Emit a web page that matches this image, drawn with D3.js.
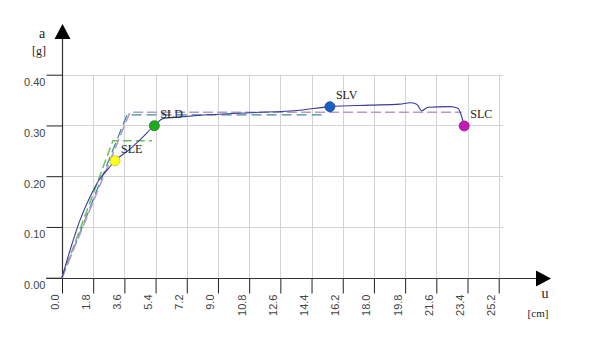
<!DOCTYPE html>
<html>
<head>
<meta charset="utf-8">
<title>curva di capacità</title>
<style>
  body { margin: 0; background: #fff; }
  .tick text { font-family: "Liberation Sans", Arial, sans-serif; font-size: 11px; fill: #444; }
  .lbl { font-family: "Liberation Serif", "Times New Roman", serif; fill: #222; }
  .grid { stroke: #d2d2d2; stroke-width: 1px; }
</style>
</head>
<body>
<script src="https://cdn.jsdelivr.net/npm/d3@7"></script>
<script>
// tick labels
var xTicks = [0.0, 1.8, 3.6, 5.4, 7.2, 9.0, 10.8, 12.6, 14.4, 16.2, 18.0, 19.8, 21.6, 23.4, 25.2];
var yTicks = [0.00, 0.10, 0.20, 0.30, 0.40];

// capacity curve (u [cm], a [g])
var curveU = [0, 0.5, 1.0, 1.6, 2.2, 2.7, 3.06, 3.8, 4.6, 5.33, 5.85, 6.5, 8.0, 10.85, 13.73, 15.46, 17.77, 19.5, 20.08, 20.47, 20.76, 21.12, 22.39, 22.85, 23.04, 23.21];
var curveA = [0, 0.058, 0.110, 0.158, 0.196, 0.216, 0.2305, 0.250, 0.275, 0.2995, 0.314, 0.316, 0.320, 0.325, 0.330, 0.337, 0.340, 0.342, 0.3448, 0.342, 0.329, 0.336, 0.337, 0.334, 0.320, 0.299];

// bilinear curves
var bilinPurpleU = [0, 3.92, 23.06];
var bilinPurpleA = [0, 0.326, 0.326];
var bilinTealU = [0, 3.75, 15.18];
var bilinTealA = [0, 0.321, 0.321];
var bilinGreenU = [0, 2.94, 5.2];
var bilinGreenA = [0, 0.270, 0.270];

// limit states
var stateNames = ["SLE", "SLD", "SLV", "SLC"];
var stateU = [3.06, 5.33, 15.46, 23.21];
var stateA = [0.2305, 0.2995, 0.337, 0.299];
var stateColors = ["#ffff22", "#1faa1f", "#1a5fc4", "#c21ab2"];

var width = 597, height = 340;

var svg = d3.select("body").append("svg")
	.attr("width", width)
	.attr("height", height)
	.style("background", "#fff");

var x = d3.scaleLinear().domain([0, 25.2]).range([62, 498.7]);
var y = d3.scaleLinear().domain([0, 0.4]).range([277.7, 74.7]);

// griglia
svg.append("g").selectAll("line")
	.data(xTicks.slice(1))
	.enter().append("line")
	.attr("class", "grid")
	.attr("x1", function(d){ return Math.round(x(d)) + 0.5; })
	.attr("x2", function(d){ return Math.round(x(d)) + 0.5; })
	.attr("y1", y(0.4))
	.attr("y2", y(0));

svg.append("g").selectAll("line")
	.data(yTicks.slice(1))
	.enter().append("line")
	.attr("class", "grid")
	.attr("x1", x(0))
	.attr("x2", 503)
	.attr("y1", function(d){ return Math.round(y(d)) + 0.5; })
	.attr("y2", function(d){ return Math.round(y(d)) + 0.5; });

// assi
var xAxis = svg.append("g")
	.attr("transform", "translate(0," + (Math.round(y(0)) + 0.5) + ")")
	.call(d3.axisBottom(x).tickValues(xTicks).tickFormat(d3.format(".1f")).tickSize(15));
xAxis.select(".domain").remove();
xAxis.selectAll(".tick line").attr("stroke", "#222");
xAxis.selectAll(".tick text")
	.attr("transform", "rotate(-90)")
	.attr("text-anchor", "end")
	.attr("x", -16)
	.attr("y", -4)
	.attr("dy", 0);

var yAxis = svg.append("g")
	.attr("transform", "translate(" + (Math.round(x(0)) + 0.5) + ",0)")
	.call(d3.axisLeft(y).tickValues(yTicks).tickFormat(d3.format(".2f")).tickSize(16));
yAxis.select(".domain").remove();
yAxis.selectAll(".tick line").attr("stroke", "#222");
yAxis.selectAll(".tick text")
	.attr("x", -17)
	.attr("dy", "1.0em");

var x0 = Math.round(x(0)) + 0.5, y0 = Math.round(y(0)) + 0.5;
svg.append("line").attr("x1", 46).attr("x2", 537).attr("y1", y0).attr("y2", y0)
	.attr("stroke", "#333").attr("stroke-width", 1.2);
svg.append("line").attr("x1", x0).attr("x2", x0).attr("y1", y0).attr("y2", 38)
	.attr("stroke", "#333").attr("stroke-width", 1.2);
// frecce
svg.append("path").attr("d", "M536," + (y0 - 8) + "L551," + y0 + "L536," + (y0 + 8) + "Z").attr("fill", "#000");
svg.append("path").attr("d", "M" + (x0 - 8) + ",39L" + x0 + ",24L" + (x0 + 8) + ",39Z").attr("fill", "#000");

// etichette assi
svg.append("text").attr("class", "lbl").attr("x", 42).attr("y", 38).attr("text-anchor", "middle").style("font-size", "14px").text("a");
svg.append("text").attr("class", "lbl").attr("x", 39).attr("y", 55).attr("text-anchor", "middle").style("font-size", "12px").text("[g]");
svg.append("text").attr("class", "lbl").attr("x", 545).attr("y", 298).attr("text-anchor", "middle").style("font-size", "14px").text("u");
svg.append("text").attr("class", "lbl").attr("x", 538).attr("y", 317).attr("text-anchor", "middle").style("font-size", "11px").text("[cm]");

var line = d3.line()
	.x(function(d){ return x(d[0]); })
	.y(function(d){ return y(d[1]); });

function pairs(u, a) { return u.map(function(d, i){ return [d, a[i]]; }); }

// bilineari tratteggiate
svg.append("path").datum(pairs(bilinGreenU, bilinGreenA))
	.attr("d", line).attr("fill", "none")
	.attr("stroke", "#6cc060").attr("stroke-width", 1.5).attr("stroke-dasharray", "9,4");
svg.append("path").datum(pairs(bilinTealU, bilinTealA))
	.attr("d", line).attr("fill", "none")
	.attr("stroke", "#3a8c9c").attr("stroke-width", 1.3).attr("stroke-dasharray", "10,5");
svg.append("path").datum(pairs(bilinPurpleU, bilinPurpleA))
	.attr("d", line).attr("fill", "none")
	.attr("stroke", "#b998cc").attr("stroke-width", 1.6).attr("stroke-dasharray", "10,4");

// curva di capacità
svg.append("path").datum(pairs(curveU, curveA))
	.attr("d", line.curve(d3.curveMonotoneX)).attr("fill", "none")
	.attr("stroke", "#3a3a9c").attr("stroke-width", 1.1);

// stati limite
var states = svg.append("g").selectAll("g")
	.data(stateNames)
	.enter().append("g");
states.append("circle")
	.attr("cx", function(d, i){ return x(stateU[i]); })
	.attr("cy", function(d, i){ return y(stateA[i]); })
	.attr("r", 5)
	.attr("fill", function(d, i){ return stateColors[i]; })
	.attr("stroke", function(d, i){ return d3.color(stateColors[i]).darker(0.8); })
	.attr("stroke-width", 0.8);
states.append("text")
	.attr("class", "lbl")
	.attr("x", function(d, i){ return x(stateU[i]) + 6; })
	.attr("y", function(d, i){ return y(stateA[i]) - 7.5; })
	.style("font-size", "12px")
	.text(function(d){ return d; });
</script>
</body>
</html>
